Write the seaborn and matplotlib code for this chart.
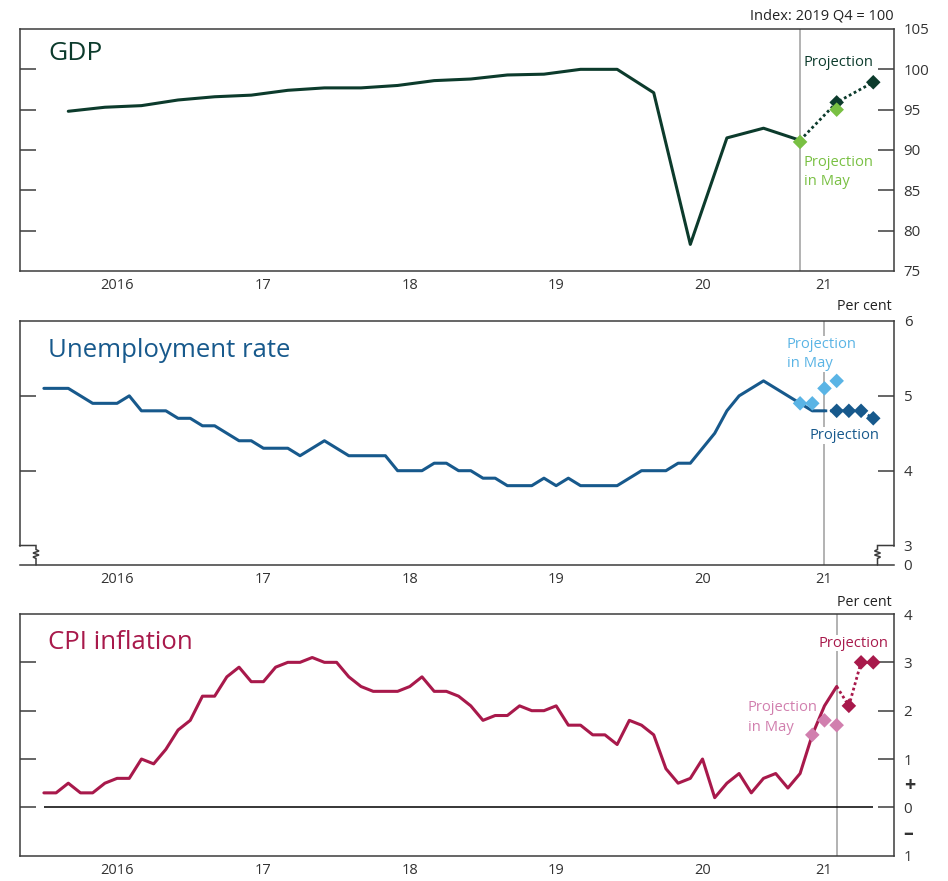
import matplotlib
matplotlib.use('Agg')
import matplotlib.pyplot as plt
import seaborn as sns
import pandas as pd

#%% data (x = months since Jan 2016)
gdp_quarters = pd.period_range('2016Q1', '2021Q1', freq='Q')
gdp = [94.8, 95.3, 95.5, 96.2, 96.6, 96.8, 97.4, 97.7, 97.7, 98.0, 98.6,
       98.8, 99.3, 99.4, 100.0, 100.0, 97.1, 78.3, 91.5, 92.7, 91.2]
gdp_proj_q = pd.period_range('2021Q1', '2021Q3', freq='Q')
gdp_proj = [91.2, 95.9, 98.4]
gdp_may_q = pd.period_range('2021Q1', '2021Q2', freq='Q')
gdp_may = [91.0, 95.0]

u_months = pd.period_range('2016-01', '2021-05', freq='M')
unemp = [5.1, 5.1, 5.1, 5.0, 4.9, 4.9, 4.9, 5.0, 4.8, 4.8, 4.8, 4.7,
         4.7, 4.6, 4.6, 4.5, 4.4, 4.4, 4.3, 4.3, 4.3, 4.2, 4.3, 4.4,
         4.3, 4.2, 4.2, 4.2, 4.2, 4.0, 4.0, 4.0, 4.1, 4.1, 4.0, 4.0,
         3.9, 3.9, 3.8, 3.8, 3.8, 3.9, 3.8, 3.9, 3.8, 3.8, 3.8, 3.8,
         3.9, 4.0, 4.0, 4.0, 4.1, 4.1, 4.3, 4.5, 4.8, 5.0, 5.1, 5.2,
         5.1, 5.0, 4.9, 4.8, 4.8]
u_proj_m = pd.period_range('2021-05', '2021-09', freq='M')
u_proj = [4.8, 4.8, 4.8, 4.8, 4.7]
u_may_m = pd.period_range('2021-03', '2021-06', freq='M')
u_may = [4.9, 4.9, 5.1, 5.2]

c_months = pd.period_range('2016-01', '2021-06', freq='M')
cpi = [0.3, 0.3, 0.5, 0.3, 0.3, 0.5, 0.6, 0.6, 1.0, 0.9, 1.2, 1.6,
       1.8, 2.3, 2.3, 2.7, 2.9, 2.6, 2.6, 2.9, 3.0, 3.0, 3.1, 3.0,
       3.0, 2.7, 2.5, 2.4, 2.4, 2.4, 2.5, 2.7, 2.4, 2.4, 2.3, 2.1,
       1.8, 1.9, 1.9, 2.1, 2.0, 2.0, 2.1, 1.7, 1.7, 1.5, 1.5, 1.3,
       1.8, 1.7, 1.5, 0.8, 0.5, 0.6, 1.0, 0.2, 0.5, 0.7, 0.3, 0.6,
       0.7, 0.4, 0.7, 1.5, 2.1, 2.5]
c_proj_m = pd.period_range('2021-06', '2021-09', freq='M')
c_proj = [2.5, 2.1, 3.0, 3.0]
c_may_m = pd.period_range('2021-04', '2021-06', freq='M')
c_may = [1.5, 1.8, 1.7]

year_labels = ['2016', '17', '18', '19', '20', '21']


def pos(periods, quarterly=False):
    if quarterly:
        return [(p.year - 2016) * 12 + (p.quarter - 1) * 3 + 2 for p in periods]
    return [(p.year - 2016) * 12 + p.month - 1 for p in periods]


#%% style
sns.set_style('white')
plt.rcParams['font.family'] = ['Open Sans', 'DejaVu Sans']
AX = '#3c3c3c'
VLINE = '#a5a5a5'

fig = plt.figure(figsize=(9.48, 8.81), dpi=100)
L, W = 19.5 / 948, 874.5 / 948
ax1 = fig.add_axes([L, 1 - 271 / 881, W, 242 / 881])
ax2 = fig.add_axes([L, 1 - 565 / 881, W, 244 / 881])
ax3 = fig.add_axes([L, 1 - 855.7 / 881, W, 241.7 / 881])


def style(ax, ylim, ticks, edge_pos, edge_labels):
    ax.set_xlim(-2, 69.7)
    ax.set_ylim(*ylim)
    for s in ax.spines.values():
        s.set_color(AX)
        s.set_linewidth(1.1)
    ax.set_xticks([0, 12, 24, 36, 48, 60])
    ax.set_xticks([6, 18, 30, 42, 54, 63.9], minor=True)
    ax.set_xticklabels(year_labels, minor=True)
    ax.tick_params(axis='x', which='major', length=11.5, width=1.1, color=AX,
                   direction='in', labelbottom=False)
    ax.tick_params(axis='x', which='minor', length=0, pad=5, labelsize=10.5,
                   labelcolor='#333333')
    ax.set_yticks(ticks)
    ax.set_yticklabels([f'{t:g}' for t in ticks])
    ax.set_yticks(edge_pos, minor=True)
    ax.set_yticklabels(edge_labels, minor=True)
    ax.tick_params(axis='y', which='both', left=True, right=True, labelleft=False,
                   labelright=True, direction='in', color=AX, width=1.1,
                   pad=7, labelsize=10.8, labelcolor='#333333')
    ax.tick_params(axis='y', which='major', length=11.5)
    ax.tick_params(axis='y', which='minor', length=0)
    ax.set_xlabel('')
    ax.set_ylabel('')


def note(ax, x, y, s, color):
    ax.text(x, y, s, color=color, fontsize=10.6, ha='left', va='center',
            linespacing=1.4, zorder=3,
            bbox=dict(facecolor='white', edgecolor='none', pad=0.5))


#%% GDP
G_DARK, G_LIGHT = '#0c3b2c', '#79c043'
ax1.axvline(pos(gdp_quarters, True)[-1], color=VLINE, lw=1.2, zorder=1)
sns.lineplot(x=pos(gdp_quarters, True), y=gdp, ax=ax1, color=G_DARK, lw=2.2, zorder=4)
sns.lineplot(x=pos(gdp_proj_q, True), y=gdp_proj, ax=ax1, color=G_DARK, lw=2,
             linestyle=(0, (1, 1)), zorder=4)
sns.scatterplot(x=pos(gdp_proj_q, True)[1:], y=gdp_proj[1:], ax=ax1, marker='D',
                s=55, color=G_DARK, edgecolor='none', zorder=5)
sns.scatterplot(x=pos(gdp_may_q, True), y=gdp_may, ax=ax1, marker='D',
                s=55, color=G_LIGHT, edgecolor='none', zorder=6)
style(ax1, (75, 105), [80, 85, 90, 95, 100], [75, 105], ['75', '105'])
ax1.text(0.0326, 0.90, 'GDP', transform=ax1.transAxes, fontsize=19,
         color=G_DARK, va='center', ha='left')
note(ax1, 62.3, 100.8, 'Projection', G_DARK)
note(ax1, 62.3, 87.3, 'Projection\nin May', G_LIGHT)
fig.text(894 / 948, 1 - 16 / 881, 'Index: 2019 Q4 = 100', ha='right', va='center',
         fontsize=10.5, color='#222222')

#%% Unemployment
U_DARK, U_LIGHT = '#17598c', '#5ab4e5'
ax2.axvline(pos(u_months)[-1], color=VLINE, lw=1.2, zorder=1)
sns.lineplot(x=pos(u_months), y=unemp, ax=ax2, color=U_DARK, lw=2.2, zorder=4)
sns.lineplot(x=pos(u_proj_m), y=u_proj, ax=ax2, color=U_DARK, lw=2,
             linestyle=(0, (1, 1)), zorder=4)
sns.scatterplot(x=pos(u_may_m), y=u_may, ax=ax2, marker='D',
                s=55, color=U_LIGHT, edgecolor='none', zorder=5)
sns.scatterplot(x=pos(u_proj_m)[1:], y=u_proj[1:], ax=ax2, marker='D',
                s=55, color=U_DARK, edgecolor='none', zorder=6)
style(ax2, (2.74, 6), [4, 5], [2.74, 3, 6], ['0', '3', '6'])
ax2.spines['left'].set_bounds(3, 6)
ax2.spines['right'].set_bounds(3, 6)
ax2.text(0.0326, 0.881, 'Unemployment rate', transform=ax2.transAxes, fontsize=18.5,
         color=U_DARK, va='center', ha='left')
note(ax2, 60.9, 5.56, 'Projection\nin May', U_LIGHT)
note(ax2, 62.8, 4.47, 'Projection', U_DARK)
fig.text(892 / 948, 1 - 306 / 881, 'Per cent', ha='right', va='center',
         fontsize=10.3, color='#222222')

# axis break marks (pixel offsets inside the axes)
aw, ah = 874.5, 244.0
zig = [(0, 19.5), (16.5, 19.5), (16.5, 15.5), (19.5, 14), (13.5, 12), (19.5, 10),
       (13.5, 8), (16.5, 6.5), (16.5, 0)]
for side in (0, 1):
    xs = [(p[0] if side == 0 else aw - p[0]) / aw for p in zig]
    ys = [p[1] / ah for p in zig]
    ax2.plot(xs, ys, transform=ax2.transAxes, color=AX, lw=1.1, clip_on=False,
             solid_joinstyle='miter')

#%% CPI
C_DARK, C_LIGHT = '#a8194b', '#d17fae'
ax3.axvline(pos(c_months)[-1], color=VLINE, lw=1.2, zorder=1)
ax3.hlines(0, 0, 68, color='black', lw=1.1, zorder=2)
sns.lineplot(x=pos(c_months), y=cpi, ax=ax3, color=C_DARK, lw=2.2, zorder=4)
sns.lineplot(x=pos(c_proj_m), y=c_proj, ax=ax3, color=C_DARK, lw=2,
             linestyle=(0, (1, 1)), zorder=4)
sns.scatterplot(x=pos(c_may_m), y=c_may, ax=ax3, marker='D',
                s=55, color=C_LIGHT, edgecolor='none', zorder=5)
sns.scatterplot(x=pos(c_proj_m)[1:], y=c_proj[1:], ax=ax3, marker='D',
                s=55, color=C_DARK, edgecolor='none', zorder=6)
style(ax3, (-1, 4), [0, 1, 2, 3], [-1, -0.5, 0.5, 4], ['1', '\u2013', '+', '4'])
ax3.text(0.0326, 0.881, 'CPI inflation', transform=ax3.transAxes, fontsize=18.5,
         color=C_DARK, va='center', ha='left')
note(ax3, 63.5, 3.40, 'Projection', C_DARK)
note(ax3, 57.7, 1.86, 'Projection\nin May', C_LIGHT)
fig.text(892 / 948, 1 - 602 / 881, 'Per cent', ha='right', va='center',
         fontsize=10.3, color='#222222')
for lab in ax3.get_yticklabels(minor=True):
    if lab.get_text() in ('+', '\u2013'):
        lab.set_fontweight('bold')
        lab.set_fontsize(14)

fig.savefig('out.png', dpi=100)
